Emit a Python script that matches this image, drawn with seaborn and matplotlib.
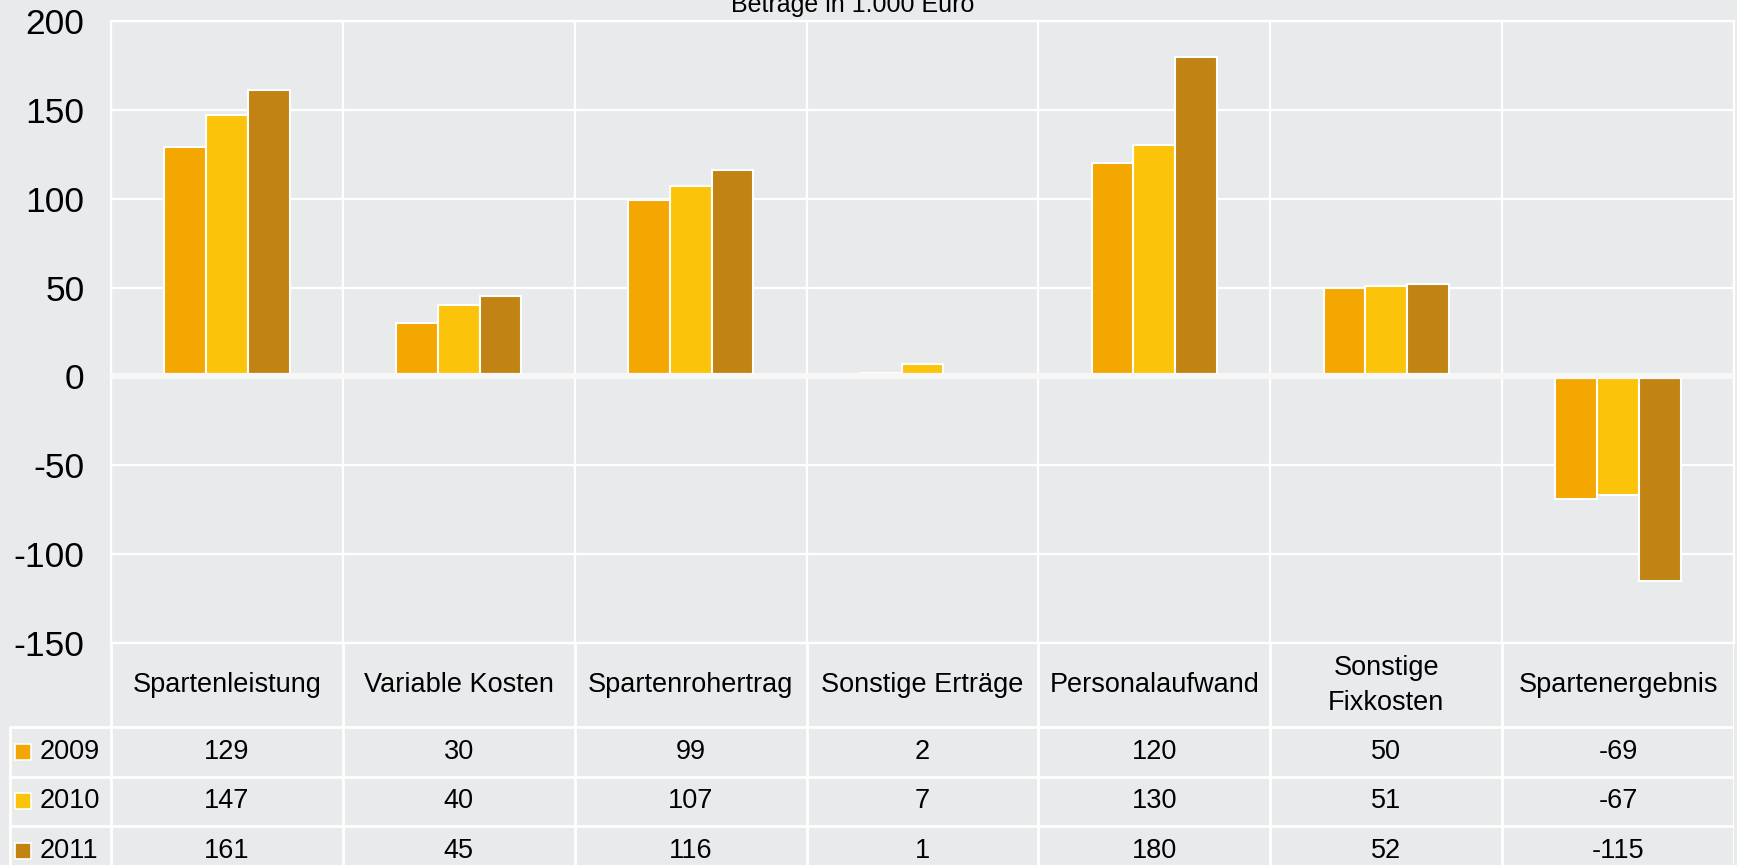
import pandas as pd
import seaborn as sns
import matplotlib.pyplot as plt

# -------------------------------------------------
# Data
# -------------------------------------------------
categories = ["Spartenleistung", "Variable Kosten", "Spartenrohertrag", "Sonstige Erträge",
              "Personalaufwand", "Sonstige\nFixkosten", "Spartenergebnis"]
years = ["2009", "2010", "2011"]
values_2009 = [129, 30, 99, 2, 120, 50, -69]
values_2010 = [147, 40, 107, 7, 130, 51, -67]
values_2011 = [161, 45, 116, 1, 180, 52, -115]
y_ticks = [-150, -100, -50, 0, 50, 100, 150, 200]
title = "Beträge in 1.000 Euro"

colors = {"2009": "#F4A700", "2010": "#FBC40A", "2011": "#C08314"}
bg = "#E9EAEC"

series = {"2009": values_2009, "2010": values_2010, "2011": values_2011}
df = pd.DataFrame([
    {"Kategorie": c, "Jahr": y, "Wert": v}
    for y in years for c, v in zip(categories, series[y])
])

# -------------------------------------------------
# Figure
# -------------------------------------------------
sns.set_style("white")
plt.rcParams["font.family"] = ["Liberation Sans", "DejaVu Sans"]
plt.rcParams["text.color"] = "black"
plt.rcParams["ytick.color"] = "black"

W, H = 1737, 865
fig = plt.figure(figsize=(W / 100, H / 100), dpi=100)
fig.patch.set_facecolor(bg)

ax = fig.add_axes([111 / W, 1 - 643 / H, (1734 - 111) / W, (643 - 21) / H])
ax.set_facecolor(bg)

sns.barplot(data=df, x="Kategorie", y="Wert", hue="Jahr", order=categories,
            hue_order=years, palette=colors, saturation=1, width=0.54,
            edgecolor="white", linewidth=1.5, ax=ax, legend=False, zorder=3)

ax.set_xlim(-0.5, len(categories) - 0.5)
ax.set_ylim(y_ticks[0], y_ticks[-1])
ax.set_yticks(y_ticks)
ax.set_yticklabels([str(t) for t in y_ticks], fontsize=25.5, color="black")
ax.tick_params(axis="y", length=0, pad=19)
ax.set_xticks([])
ax.set_xlabel("")
ax.set_ylabel("")

for t in y_ticks:
    ax.axhline(t, color="white", lw=1.6, zorder=1)
for k in range(len(categories) + 1):
    ax.axvline(k - 0.5, color="white", lw=1.6, zorder=1)
ax.axhline(0, color="#F7F7F7", lw=4.5, zorder=4)

for s in ax.spines.values():
    s.set_color("white")
    s.set_linewidth(1.6)

fig.text(853 / W, 1 - 12 / H, title, ha="center", va="baseline", fontsize=18)

# -------------------------------------------------
# Data table
# -------------------------------------------------
group_px = (1734 - 111) / len(categories)
leg_w = (111 - 9) / group_px
tab = fig.add_axes([9 / W, 0, (1734 - 9) / W, 222 / H])
tab.set_facecolor(bg)
tab.set_xlim(-0.5 - leg_w, len(categories) - 0.5)
head_h = 1.7
bottom = 222 / 49.5
tab.set_ylim(bottom, 0)
tab.axis("off")

line_kw = dict(color="white", lw=2, solid_capstyle="butt")
for k in range(len(categories) + 1):
    tab.plot([k - 0.5, k - 0.5], [0, bottom], **line_kw)
tab.plot([-0.5 - leg_w + 0.005, -0.5 - leg_w + 0.005], [head_h, bottom], **line_kw)
for r in range(len(years)):
    tab.plot([-0.5 - leg_w, len(categories) - 0.5], [head_h + r, head_h + r], **line_kw)

fs = 19.5
for i, c in enumerate(categories):
    tab.text(i, head_h / 2, c, ha="center", va="center", fontsize=fs,
             linespacing=1.45)

x0 = -0.5 - leg_w
for r, y in enumerate(years):
    yc = head_h + r + 0.5
    tab.scatter([x0 + 0.0625], [yc], marker="s", s=130, color=colors[y],
                edgecolor="white", linewidth=1.2, zorder=3)
    tab.text(x0 + 0.134, yc, y, ha="left", va="center", fontsize=fs)
    for i, v in enumerate(series[y]):
        tab.text(i, yc, str(v), ha="center", va="center", fontsize=fs)

fig.savefig("out.png", dpi=100, facecolor=bg)
